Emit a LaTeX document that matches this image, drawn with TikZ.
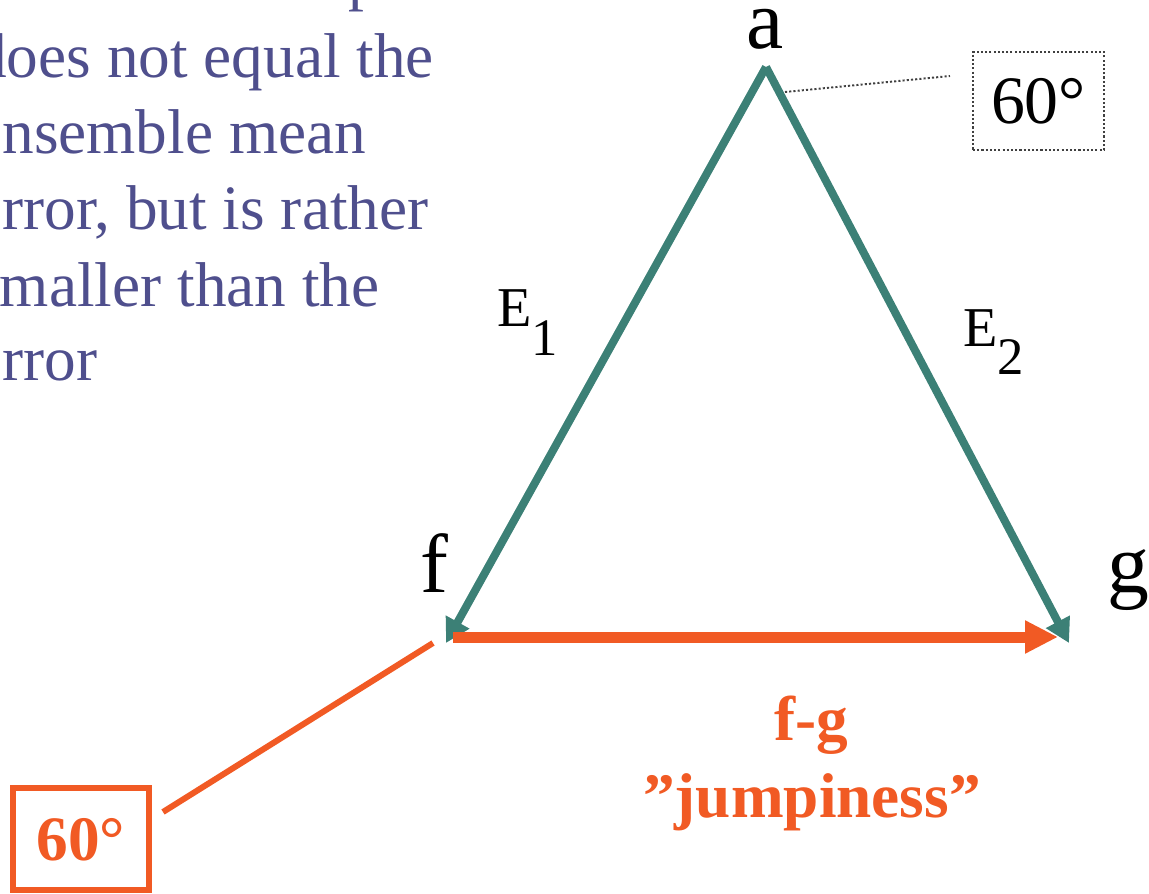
\documentclass[tikz,border=0pt]{standalone}
\usepackage{fontspec}
\setmainfont{Liberation Serif}
\usetikzlibrary{arrows.meta}

\definecolor{notecol}{HTML}{4F4F8D}
\definecolor{edgecol}{HTML}{3C8076}
\definecolor{jumpcol}{HTML}{F15A24}

\tikzset{
  vlabel/.style={font=\fontsize{47.6}{50}\selectfont, inner sep=0pt, anchor=base},
  elabel/.style={font=\fontsize{32}{34}\selectfont, inner sep=0pt, anchor=base west},
  note/.style={text=notecol, font=\fontsize{36}{43}\selectfont, inner sep=0pt, anchor=base west},
  jtext/.style={text=jumpcol, font=\bfseries\fontsize{36}{43}\selectfont, inner sep=0pt, anchor=base},
  err/.style={edgecol, line width=0.16cm, -{Triangle[length=0.48cm,width=0.51cm]}},
  jump/.style={jumpcol, line width=0.22cm, -{Triangle[length=0.66cm,width=0.62cm]}},
}

\begin{document}
\begin{tikzpicture}
    \clip (0,0) rectangle (22.98,17.86);
    % Testo
    \node[note] (p0) at (6.96,17.88) {p};
    \node[note] (l1) at (-0.50,16.30) {does not equal the};
    \node[note] (l2) at (-0.52,14.78) {ensemble mean};
    \node[note] (l3) at (-0.52,13.26) {error, but is rather};
    \node[note] (l4) at (-0.50,11.72) {smaller than the};
    \node[note] (l5) at (-0.52,10.24) {error};
    % Vertici
    \coordinate (a) at (15.32,16.52);
    \coordinate (f) at (8.92,5.00);
    \coordinate (g) at (21.38,5.00);
    \coordinate (fs) at (9.06,5.12);
    \coordinate (ge) at (21.16,5.12);
    \node[vlabel] (la) at (15.30,16.88) {a};
    \node[vlabel] (lf) at (8.68,6.02) {f};
    \node[vlabel] (lg) at (22.56,6.02) {g};
    % Errori
    \draw[err] (a) -- (f);
    \draw[err] (a) -- (g);
    \draw[jump] (fs) -- (ge);
    \node[elabel] (e1) at (9.94,11.32) {E\raisebox{-16.4pt}{\fontsize{30}{30}\selectfont 1}};
    \node[elabel] (e2) at (19.26,10.92) {E\raisebox{-15.8pt}{\fontsize{30}{30}\selectfont 2}};
    % Angoli
    \node[draw=black!75, line width=1.1pt, dash pattern=on 1.2pt off 1.2pt,
          minimum width=2.62cm, minimum height=1.96cm, inner sep=0pt,
          font=\fontsize{38.6}{40}\selectfont] (ang1) at (20.77,15.84) {60°};
    \coordinate (d1) at (15.70,16.02);
    \coordinate (d2) at (19.00,16.34);
    \draw[black!75, line width=1.1pt, dash pattern=on 1.2pt off 1.2pt] (d1) -- (d2);
    \node[draw=jumpcol, line width=0.12cm, minimum width=2.72cm, minimum height=2.04cm,
          inner sep=0pt, text=jumpcol, text depth=0pt, font=\bfseries\fontsize{36}{40}\selectfont] (ang2) at (1.62,1.08) {60°};
    \coordinate (c1) at (3.26,1.62);
    \coordinate (c2) at (8.66,5.00);
    \draw[jumpcol, line width=0.12cm] (c1) -- (c2);
    % Differenza
    \node[jtext] (fg) at (16.23,3.06) {f-g};
    \node[jtext] (jp) at (16.24,1.52) {”jumpiness”};
\end{tikzpicture}
\end{document}
